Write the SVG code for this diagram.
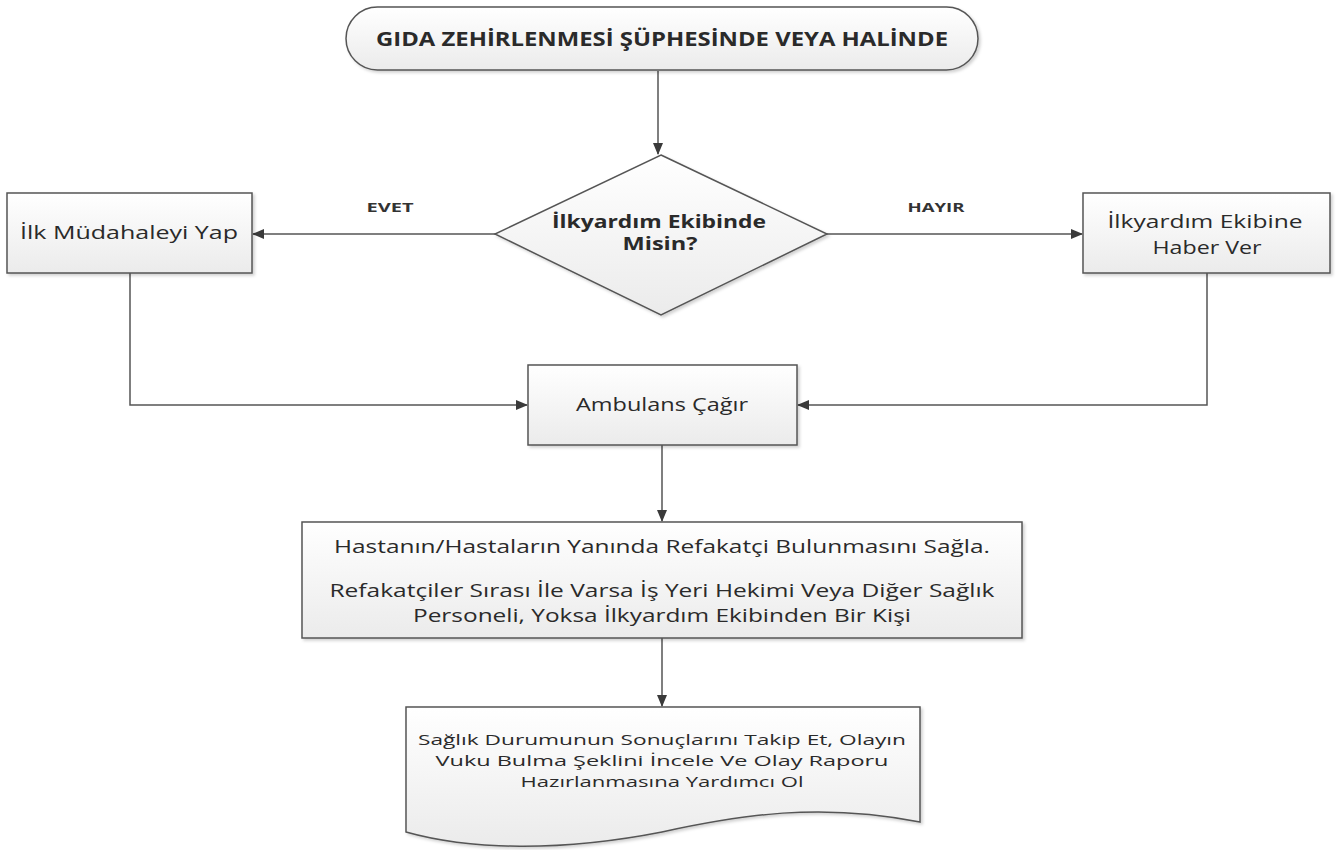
<svg xmlns="http://www.w3.org/2000/svg" width="1342" height="850" viewBox="0 0 1342 850">
<style>
.shape{fill:url(#g);stroke:#555;stroke-width:1.5;filter:url(#sh)}
.t{font-family:"Open Sans","Liberation Sans",sans-serif;fill:#2a2a2a;text-anchor:middle;font-size:18px}
.b{font-weight:bold}
.s{font-size:15px}
.lbl{font-family:"Open Sans","Liberation Sans",sans-serif;fill:#333;text-anchor:middle;font-size:13px;font-weight:bold}
.c{fill:none;stroke:#555;stroke-width:1.5}
</style>
<defs>
<linearGradient id="g" x1="0" y1="0" x2="0" y2="1">
<stop offset="0" stop-color="#ffffff"/>
<stop offset="1" stop-color="#ebebeb"/>
</linearGradient>
<filter id="sh" x="-10%" y="-10%" width="120%" height="130%">
<feDropShadow dx="2" dy="2" stdDeviation="1.5" flood-color="#000" flood-opacity="0.18"/>
</filter>
<marker id="ah" markerWidth="12" markerHeight="10" refX="11" refY="5" orient="auto" markerUnits="userSpaceOnUse">
<path d="M0,0 L12,5 L0,10 Z" fill="#3a3a3a"/>
</marker>
</defs>
<rect width="1342" height="850" fill="#fff"/>
<g id="connectors">
<path class="c" d="M658,71 V154" marker-end="url(#ah)"/>
<path class="c" d="M495,234 H253" marker-end="url(#ah)"/>
<path class="c" d="M827,234 H1082" marker-end="url(#ah)"/>
<path class="c" d="M130,273 V405 H527" marker-end="url(#ah)"/>
<path class="c" d="M1207,273 V405 H798" marker-end="url(#ah)"/>
<path class="c" d="M662,445 V521" marker-end="url(#ah)"/>
<path class="c" d="M662,638 V706" marker-end="url(#ah)"/>
<text class="lbl" x="390" y="212" textLength="47" lengthAdjust="spacingAndGlyphs">EVET</text>
<text class="lbl" x="936" y="212" textLength="57" lengthAdjust="spacingAndGlyphs">HAYIR</text>
</g>
<g id="start">
<rect class="shape" x="346" y="7" width="632" height="63" rx="31.5" ry="31.5"/>
<text class="t b" x="662" y="46" style="font-size:19px" textLength="572" lengthAdjust="spacingAndGlyphs">GIDA ZEHİRLENMESİ ŞÜPHESİNDE VEYA HALİNDE</text>
</g>
<g id="decision">
<polygon class="shape" points="661,155 827,234 661,315 495,234"/>
<text class="t b" x="659" y="228" textLength="214" lengthAdjust="spacingAndGlyphs">İlkyardım Ekibinde</text>
<text class="t b" x="660" y="250" textLength="75" lengthAdjust="spacingAndGlyphs">Misin?</text>
</g>
<g id="ilk-mudahale">
<rect class="shape" x="7" y="193" width="245" height="80"/>
<text class="t" x="129" y="239" textLength="218" lengthAdjust="spacingAndGlyphs">İlk Müdahaleyi Yap</text>
</g>
<g id="haber-ver">
<rect class="shape" x="1083" y="193" width="247" height="80"/>
<text class="t" x="1205" y="228" textLength="195" lengthAdjust="spacingAndGlyphs">İlkyardım Ekibine</text>
<text class="t" x="1207" y="254" textLength="109" lengthAdjust="spacingAndGlyphs">Haber Ver</text>
</g>
<g id="ambulans">
<rect class="shape" x="528" y="365" width="269" height="80"/>
<text class="t" x="662" y="411" textLength="172" lengthAdjust="spacingAndGlyphs">Ambulans Çağır</text>
</g>
<g id="refakatci">
<rect class="shape" x="302" y="522" width="720" height="116"/>
<text class="t" x="662" y="553" textLength="656" lengthAdjust="spacingAndGlyphs">Hastanın/Hastaların Yanında Refakatçi Bulunmasını Sağla.</text>
<text class="t" x="662" y="597" textLength="665" lengthAdjust="spacingAndGlyphs">Refakatçiler Sırası İle Varsa İş Yeri Hekimi Veya Diğer Sağlık</text>
<text class="t" x="662" y="622" textLength="498" lengthAdjust="spacingAndGlyphs">Personeli, Yoksa İlkyardım Ekibinden Bir Kişi</text>
</g>
<g id="takip">
<path class="shape" d="M406,707 H920 V822 C820,802 740,815 662,832 C560,852 470,850 406,832 Z"/>
<text class="t s" x="662" y="745" textLength="488" lengthAdjust="spacingAndGlyphs">Sağlık Durumunun Sonuçlarını Takip Et, Olayın</text>
<text class="t s" x="662" y="766" textLength="453" lengthAdjust="spacingAndGlyphs">Vuku Bulma Şeklini İncele Ve Olay Raporu</text>
<text class="t s" x="662" y="787" textLength="283" lengthAdjust="spacingAndGlyphs">Hazırlanmasına Yardımcı Ol</text>
</g>
</svg>
